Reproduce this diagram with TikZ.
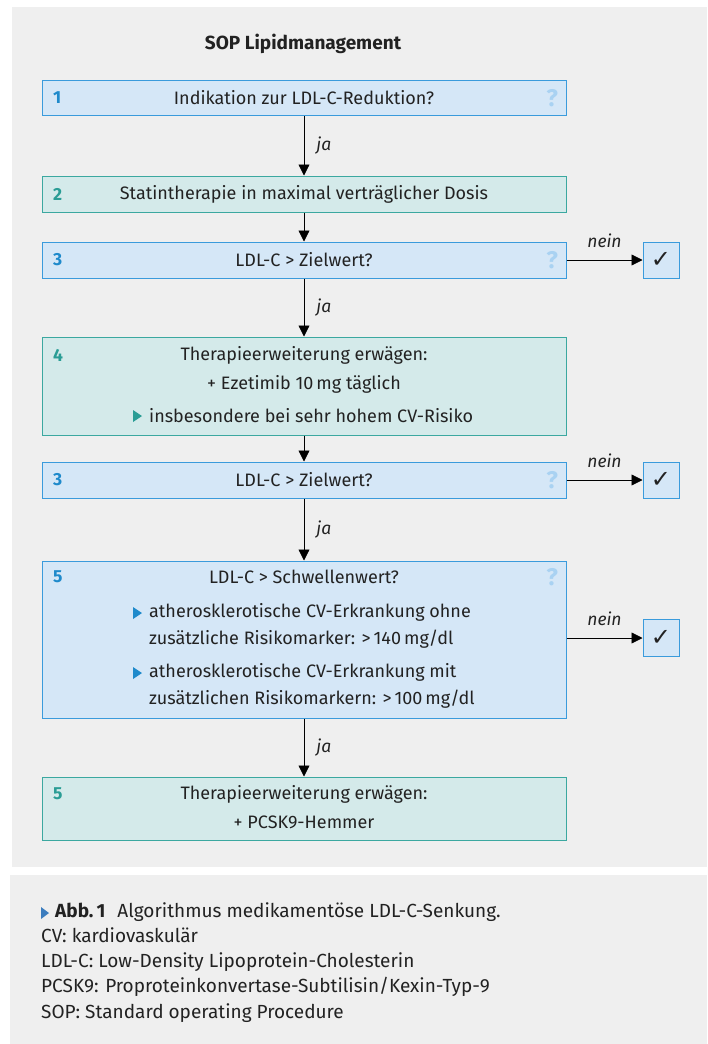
\documentclass[tikz,border=0pt]{standalone}
\usepackage{fontspec}
\usetikzlibrary{arrows.meta}
\setmainfont{Fira Sans}
\newfontfamily\symfont{DejaVu Sans}
\definecolor{panel}{HTML}{EFEFEF}
\definecolor{fillblue}{HTML}{D5E7F7}
\definecolor{boxblue}{HTML}{3A9BDC}
\definecolor{numblue}{HTML}{1F8ACB}
\definecolor{qmblue}{HTML}{A9D2F2}
\definecolor{fillteal}{HTML}{D4EAEA}
\definecolor{boxteal}{HTML}{3BA8A0}
\definecolor{numteal}{HTML}{2A9D95}
\definecolor{captri}{HTML}{3C7DBE}
\definecolor{txt}{HTML}{222222}
\begin{document}
\begin{tikzpicture}[x=1pt,y=-1pt,
  every node/.style={text=txt},
  base/.style={line width=1pt, minimum width=524pt, inner sep=0pt, font=\fontsize{18}{20}\selectfont},
  bbox/.style={base, draw=boxblue, fill=fillblue},
  tbox/.style={base, draw=boxteal, fill=fillteal},
  chk/.style={draw=boxblue, fill=fillblue, line width=1pt, minimum width=36pt, inner sep=0pt, font=\symfont\bfseries\fontsize{24}{24}\selectfont},
  numb/.style={anchor=west, inner sep=0pt, text=numblue, font=\bfseries\fontsize{17.5}{20}\selectfont},
  numt/.style={anchor=west, inner sep=0pt, text=numteal, font=\bfseries\fontsize{17.5}{20}\selectfont},
  qm/.style={anchor=east, inner sep=0pt, text=qmblue, font=\bfseries\fontsize{24}{24}\selectfont},
  body/.style={inner sep=0pt, font=\fontsize{18}{20}\selectfont},
  arr/.style={-{Triangle[length=11pt,width=11pt]}, line width=0.8pt, black},
  lab/.style={font=\itshape\fontsize{17.5}{20}\selectfont, inner sep=0pt},
  trib/.style={fill=numblue, draw=none},
  trit/.style={fill=numteal, draw=none}
]
\useasboundingbox (0,0) rectangle (707,1044);
\fill[white] (0,0) rectangle (707,1044);
\fill[panel] (12,7) rectangle (707,867);
\fill[panel] (10,875) rectangle (707,1044);

\node[font=\bfseries\fontsize{19}{20}\selectfont, inner sep=0pt] (title) at (303,44) {SOP Lipidmanagement};

% box 1
\node[bbox, minimum height=35pt] (b1) at (304,98) {Indikation zur LDL-C-Reduktion?};
\node[numb] (n1) at (53,98) {1};
\node[qm] (q1) at (558,98) {?};

% box 2
\node[tbox, minimum height=36pt] (b2) at (304,194) {Statintherapie in maximal verträglicher Dosis};
\node[numt] (n2) at (53,194) {2};

% box 3
\node[bbox, minimum height=36pt] (b3) at (304,260) {LDL-C > Zielwert?};
\node[numb] (n3) at (53,260) {3};
\node[qm] (q3) at (558,260) {?};
\node[chk, minimum height=36pt] (c1) at (661,260) {✓};

% box 4
\node[tbox, minimum height=98pt] (b4) at (304,386) {};
\node[numt] (n4) at (53,355) {4};
\node[body] (t4a) at (304,355) {Therapieerweiterung erwägen:};
\node[body] (t4b) at (304,384) {+ Ezetimib 10\,mg täglich};
\node[body, anchor=west] (t4c) at (149,416) {insbesondere bei sehr hohem CV-Risiko};
\fill[trit] (133,410) -- (142,416) -- (133,422) -- cycle;

% box 3b
\node[bbox, minimum height=36pt] (b5) at (304,480) {LDL-C > Zielwert?};
\node[numb] (n5) at (53,480) {3};
\node[qm] (q5) at (558,480) {?};
\node[chk, minimum height=36pt] (c2) at (661,480) {✓};

% box 5
\node[bbox, minimum height=157pt] (b6) at (304,639.5) {};
\node[numb] (n6) at (53,577) {5};
\node[qm] (q6) at (558,577) {?};
\node[body] (t6a) at (304,577) {LDL-C > Schwellenwert?};
\node[body, anchor=west, align=left, font=\fontsize{18}{26.5}\selectfont] (t6b) at (149,626) {atherosklerotische CV-Erkrankung ohne\\zusätzliche Risikomarker: >\,140\,mg/dl};
\node[body, anchor=west, align=left, font=\fontsize{18}{26.5}\selectfont] (t6c) at (149,686) {atherosklerotische CV-Erkrankung mit\\zusätzlichen Risikomarkern: >\,100\,mg/dl};
\fill[trib] (133,607) -- (142,613) -- (133,619) -- cycle;
\fill[trib] (133,667) -- (142,673) -- (133,679) -- cycle;
\node[chk, minimum height=37pt] (c3) at (661,638) {✓};

% box 6
\node[tbox, minimum height=63pt] (b7) at (304,808.5) {};
\node[numt] (n7) at (53,794) {5};
\node[body] (t7a) at (304,794) {Therapieerweiterung erwägen:};
\node[body] (t7b) at (304,822) {+ PCSK9-Hemmer};

% connectors
\draw[arr] (b1) -- (b2) node[lab, midway, anchor=west, xshift=12pt] (l1) {ja};
\draw[arr] (b2) -- (b3);
\draw[arr] (b3) -- (b4) node[lab, midway, anchor=west, xshift=12pt] (l2) {ja};
\draw[arr] (b4) -- (b5);
\draw[arr] (b5) -- (b6) node[lab, midway, anchor=west, xshift=12pt] (l3) {ja};
\draw[arr] (b6) -- (b7) node[lab, midway, anchor=west, xshift=12pt] (l4) {ja};
\draw[arr] (b3) -- (c1) node[lab, midway, above=12pt] (l5) {nein};
\draw[arr] (b5) -- (c2) node[lab, midway, above=12pt] (l6) {nein};
\draw[arr] (b6.east |- c3) -- (c3) node[lab, midway, above=12pt] (l7) {nein};

% caption
\fill[captri] (41,907) -- (49,913) -- (41,919) -- cycle;
\node[anchor=north west, align=left, inner sep=0pt, font=\fontsize{19}{25.3}\selectfont] (cap) at (55,902) {\textbf{Abb.\,1}\hspace{12pt}Algorithmus medikamentöse LDL-C-Senkung.\\\hspace{-14pt}CV: kardiovaskulär\\\hspace{-14pt}LDL-C: Low-Density Lipoprotein-Cholesterin\\\hspace{-14pt}PCSK9: Proproteinkonvertase-Subtilisin/Kexin-Typ-9\\\hspace{-14pt}SOP: Standard operating Procedure};
\end{tikzpicture}
\end{document}
